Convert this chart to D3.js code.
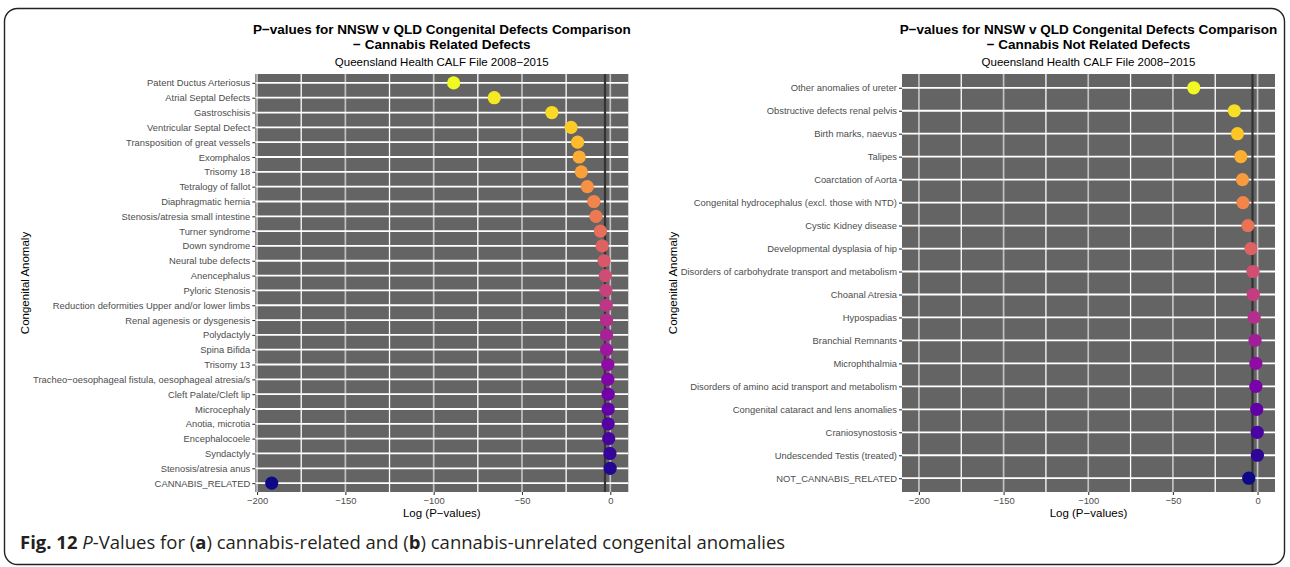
<!DOCTYPE html>
<html>
<head>
<meta charset="utf-8">
<script src="https://cdn.jsdelivr.net/npm/d3@7"></script>
<style>
  body { margin: 0; background: #fff; }
  svg { display: block; }
</style>
</head>
<body>
<div class="figure"></div>
<script>
        // Chart data
        var relatedCats = ["Patent Ductus Arteriosus", "Atrial Septal Defects", "Gastroschisis",
            "Ventricular Septal Defect", "Transposition of great vessels", "Exomphalos", "Trisomy 18",
            "Tetralogy of fallot", "Diaphragmatic hernia", "Stenosis/atresia small intestine",
            "Turner syndrome", "Down syndrome", "Neural tube defects", "Anencephalus",
            "Pyloric Stenosis", "Reduction deformities Upper and/or lower limbs",
            "Renal agenesis or dysgenesis", "Polydactyly", "Spina Bifida", "Trisomy 13",
            "Tracheo\u2212oesophageal fistula, oesophageal atresia/s", "Cleft Palate/Cleft lip",
            "Microcephaly", "Anotia, microtia", "Encephalocoele", "Syndactyly",
            "Stenosis/atresia anus", "CANNABIS_RELATED"];
        var relatedVals = [-88.7, -65.7, -33.1, -22.2, -18.5, -17.6, -16.4, -13.0, -9.3, -8.1,
            -5.6, -4.6, -3.5, -2.8, -2.5, -2.3, -2.1, -2.1, -2.1, -1.4, -1.4, -1.2, -1.2, -1.2,
            -0.9, -0.2, -0.1, -191.7];

        var unrelatedCats = ["Other anomalies of ureter", "Obstructive defects renal pelvis",
            "Birth marks, naevus", "Talipes", "Coarctation of Aorta",
            "Congenital hydrocephalus (excl. those with NTD)", "Cystic Kidney disease",
            "Developmental dysplasia of hip", "Disorders of carbohydrate transport and metabolism",
            "Choanal Atresia", "Hypospadias", "Branchial Remnants", "Microphthalmia",
            "Disorders of amino acid transport and metabolism", "Congenital cataract and lens anomalies",
            "Craniosynostosis", "Undescended Testis (treated)", "NOT_CANNABIS_RELATED"];
        var unrelatedVals = [-37.7, -13.7, -11.9, -9.9, -8.9, -8.6, -5.7, -3.9, -2.7, -2.5,
            -2.0, -1.5, -1.0, -1.0, -0.5, -0.2, -0.1, -5.2];

        var xTicks = [-200, -150, -100, -50, 0];
        var xMinor = [-175, -125, -75, -25];
        var cutoff = Math.log(0.05);   // p = 0.05 reference line

        var titleLine1 = "P\u2212values for NNSW v QLD Congenital Defects Comparison";
        var subtitle = "Queensland Health CALF File 2008\u22122015";

        //Width and height
        var w = 1290;
        var h = 567;
        var font = "Liberation Sans, Arial, sans-serif";

        var svg = d3.select("div.figure")
                    .append("svg")
                    .attr("width", w)
                    .attr("height", h);

        // outer frame
        svg.append("rect")
            .attr("x", 4.5)
            .attr("y", 8.5)
            .attr("width", 1280)
            .attr("height", 556)
            .attr("rx", 13)
            .attr("fill", "none")
            .attr("stroke", "#222")
            .attr("stroke-width", 1.4);

        function drawPanel(cats, vals, domain, box, title2, yTitleX) {
            var xScale = d3.scaleLinear()
                            .domain(domain)
                            .range([box.x0, box.x1]);

            var yScale = d3.scalePoint()
                            .domain(cats)
                            .range([box.y0, box.y1])
                            .padding(0.6);

            var g = svg.append("g");

            g.append("rect")
                .attr("x", box.x0)
                .attr("y", box.y0)
                .attr("width", box.x1 - box.x0)
                .attr("height", box.y1 - box.y0)
                .attr("fill", "#646464");

            // grid lines
            g.selectAll("line.minor")
                .data(xMinor)
                .enter()
                .append("line")
                .attr("x1", function(d) { return xScale(d); })
                .attr("x2", function(d) { return xScale(d); })
                .attr("y1", box.y0)
                .attr("y2", box.y1)
                .attr("stroke", "#fff")
                .attr("stroke-width", 1.3);

            g.selectAll("line.major")
                .data(xTicks)
                .enter()
                .append("line")
                .attr("x1", function(d) { return xScale(d); })
                .attr("x2", function(d) { return xScale(d); })
                .attr("y1", box.y0)
                .attr("y2", box.y1)
                .attr("stroke", "#c2c2c2")
                .attr("stroke-width", 1.7);

            g.selectAll("line.hgrid")
                .data(cats)
                .enter()
                .append("line")
                .attr("x1", box.x0)
                .attr("x2", box.x1)
                .attr("y1", function(d) { return yScale(d); })
                .attr("y2", function(d) { return yScale(d); })
                .attr("stroke", "#fff")
                .attr("stroke-width", 1.8);

            // p = 0.05 line
            g.append("line")
                .attr("x1", xScale(cutoff))
                .attr("x2", xScale(cutoff))
                .attr("y1", box.y0)
                .attr("y2", box.y1)
                .attr("stroke", "#333")
                .attr("stroke-width", 2.2);

            // points
            var n = cats.length;
            g.selectAll("circle")
                .data(vals)
                .enter()
                .append("circle")
                .attr("cx", function(d) { return xScale(d); })
                .attr("cy", function(d, i) { return yScale(cats[i]); })
                .attr("r", 6.6)
                .attr("fill", function(d, i) {
                    return d3.interpolatePlasma(1 - i / (n - 1));
                });

            // axes
            var x_axis = d3.axisBottom(xScale)
                            .tickValues(xTicks)
                            .tickSize(3)
                            .tickPadding(2)
                            .tickFormat(function(d) { return String(d).replace("-", "\u2212"); });

            var ax = g.append("g")
                .attr("transform", "translate(0," + box.y1 + ")")
                .call(x_axis);

            var y_axis = d3.axisLeft(yScale)
                            .tickSize(3)
                            .tickPadding(2);

            var ay = g.append("g")
                .attr("transform", "translate(" + box.x0 + ",0)")
                .call(y_axis);

            [ax, ay].forEach(function(a) {
                a.select(".domain").remove();
                a.selectAll(".tick line").attr("stroke", "#333").attr("stroke-width", 1.1);
                a.selectAll(".tick text")
                    .attr("fill", "#4d4d4d")
                    .attr("font-family", font)
                    .attr("font-size", "9.4px");
            });

            // titles
            var cx = (box.x0 + box.x1) / 2;
            g.append("text")
                .attr("x", cx)
                .attr("y", 34)
                .attr("text-anchor", "middle")
                .attr("font-family", font)
                .attr("font-size", "13.5px")
                .attr("font-weight", "bold")
                .attr("fill", "#000")
                .text(titleLine1);

            g.append("text")
                .attr("x", cx)
                .attr("y", 49)
                .attr("text-anchor", "middle")
                .attr("font-family", font)
                .attr("font-size", "13.5px")
                .attr("font-weight", "bold")
                .attr("fill", "#000")
                .text(title2);

            g.append("text")
                .attr("x", cx)
                .attr("y", 66)
                .attr("text-anchor", "middle")
                .attr("font-family", font)
                .attr("font-size", "11.5px")
                .attr("fill", "#000")
                .text(subtitle);

            // text label for the x axis
            g.append("text")
                .attr("x", cx)
                .attr("y", 517)
                .attr("text-anchor", "middle")
                .attr("font-family", font)
                .attr("font-size", "11.5px")
                .attr("fill", "#000")
                .text("Log (P\u2212values)");

            // text label for the y axis
            g.append("text")
                .attr("transform", "translate(" + yTitleX + "," + ((box.y0 + box.y1) / 2) + ") rotate(-90)")
                .attr("text-anchor", "middle")
                .attr("font-family", font)
                .attr("font-size", "11.5px")
                .attr("fill", "#000")
                .text("Congenital Anomaly");
        }

        drawPanel(relatedCats, relatedVals, [-201, 10.2],
                  {x0: 255.3, x1: 628.3, y0: 74, y1: 492},
                  "\u2212 Cannabis Related Defects", 29);

        drawPanel(unrelatedCats, unrelatedVals, [-210, 10.3],
                  {x0: 902, x1: 1275, y0: 74, y1: 492},
                  "\u2212 Cannabis Not Related Defects", 677);

        // figure caption
        var cap = svg.append("text")
            .attr("x", 20)
            .attr("y", 549)
            .attr("font-family", "Open Sans, sans-serif")
            .attr("font-size", "18.5px")
            .attr("fill", "#231f20");

        cap.append("tspan").attr("font-weight", "bold").text("Fig. 12 ");
        cap.append("tspan").attr("font-style", "italic").text("P");
        cap.append("tspan").text("-Values for (");
        cap.append("tspan").attr("font-weight", "bold").text("a");
        cap.append("tspan").text(") cannabis-related and (");
        cap.append("tspan").attr("font-weight", "bold").text("b");
        cap.append("tspan").text(") cannabis-unrelated congenital anomalies");
</script>
</body>
</html>
